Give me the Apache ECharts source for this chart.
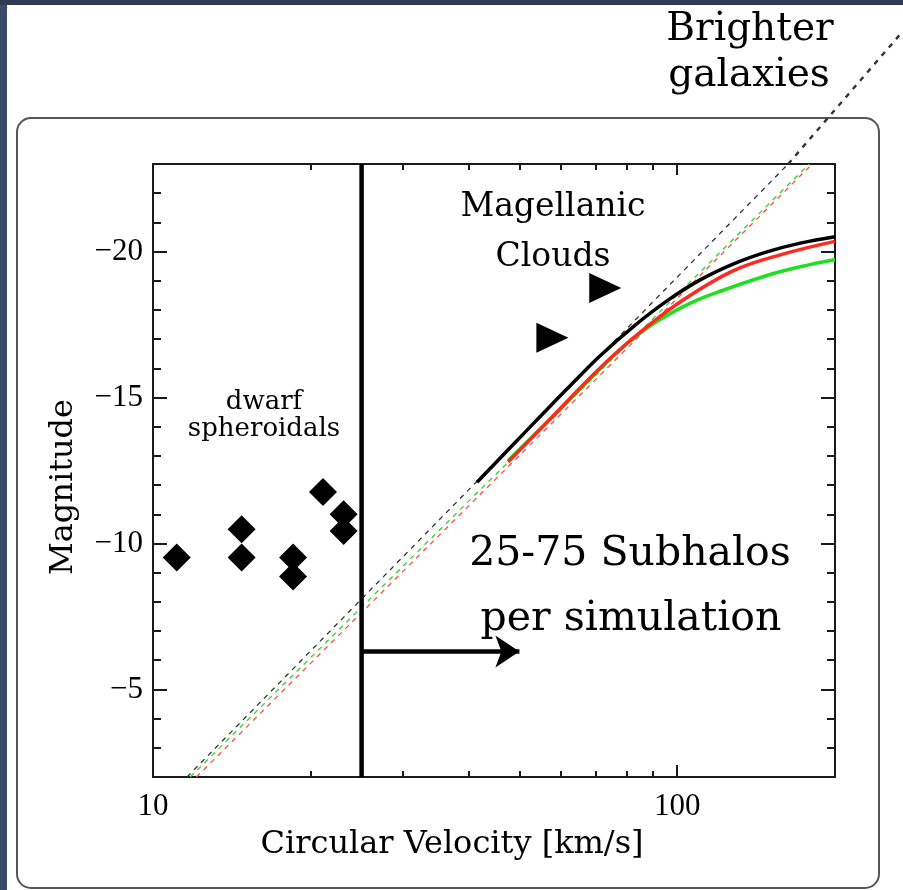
<!DOCTYPE html>
<html><head><meta charset="utf-8">
<script src="https://cdn.jsdelivr.net/npm/echarts@6/dist/echarts.min.js"></script>
<style>html,body{margin:0;padding:0;background:#fff}#c{width:903px;height:890px}</style>
</head><body><div id="c"></div>
<script>
// ---- data ----
const xTickMajor = [10, 100];
const xTickMinor = [20, 30, 40, 50, 60, 70, 80, 90, 200];
const yTickMajor = [-20, -15, -10, -5];
const yTickMinor = [-22, -21, -19, -18, -17, -16, -14, -13, -12, -11, -9, -8, -7, -6, -4, -3];

const dwarfs = [[11.1, -9.52], [14.76, -10.49], [14.76, -9.52], [18.5, -9.52], [18.5, -8.87], [21.1, -11.76], [23.1, -11.0], [23.1, -10.43]];
const clouds = [[57.8, -17.05], [72.9, -18.75]];

const blackCurve = [[41.5, -12.10], [48.0, -13.28], [55.6, -14.47], [61.6, -15.29], [71.3, -16.43], [82.5, -17.43], [95.6, -18.31], [110.6, -19.03], [128.1, -19.58], [148.3, -19.99], [171.7, -20.29], [200, -20.51]];
const redCurve = [[47.6, -12.79], [57.2, -14.26], [67.2, -15.56], [76.7, -16.55], [87.5, -17.42], [102.8, -18.35], [128.1, -19.35], [159.6, -19.92], [200, -20.35]];
const greenCurve = [[47.6, -12.84], [61.6, -14.83], [76.7, -16.54], [85.6, -17.25], [95.6, -17.81], [106.7, -18.26], [119.1, -18.60], [148.3, -19.18], [171.7, -19.48], [200, -19.73]];

const blackDash = [[11.61, -2], [162.8, -23]];
const greenDash = [[11.77, -2], [178.6, -23]];
const redDash = [[12.1, -2], [180.9, -23]];
const brighterPointer = [[162.8, -23], [269.8, -27.56]];

const cutLine = [[25, -2], [25, -23]];
const arrowLine = [[25, -6.3], [50, -6.3]];

// ---- chart ----
const chart = echarts.init(document.getElementById('c'), null, {renderer: 'canvas'});
const AX = '#1a1a1a';
const NUMFONT = 'Liberation Serif';

function xAxisDef(pos, ticks, len, withLine, withLabel) {
  return {
    type: 'log', logBase: 10, min: 10, max: 200, position: pos,
    axisLine: {show: withLine, onZero: false, lineStyle: {color: AX, width: 2}},
    axisTick: {show: true, inside: true, length: len, customValues: ticks, lineStyle: {color: AX, width: 2}},
    axisLabel: withLabel ? {show: true, customValues: ticks, margin: 14, fontFamily: NUMFONT, fontSize: 31, color: '#000'} : {show: false},
    splitLine: {show: false}, minorTick: {show: false}
  };
}
function yAxisDef(pos, ticks, len, withLine, withLabel) {
  return {
    type: 'value', inverse: true, min: -23, max: -2, position: pos,
    axisLine: {show: withLine, onZero: false, lineStyle: {color: AX, width: 2}},
    axisTick: {show: true, inside: true, length: len, customValues: ticks, lineStyle: {color: AX, width: 2}},
    axisLabel: withLabel ? {show: true, customValues: ticks, margin: 10, fontFamily: NUMFONT, fontSize: 31, color: '#000',
      formatter: v => (v < 0 ? '\u2212' : '') + Math.abs(v)} : {show: false},
    splitLine: {show: false}
  };
}

function txt(x, y, text, size, extra) {
  return Object.assign({type: 'text', z: 100, silent: true, x: x, y: y,
    style: {text: text, font: size + 'px "DejaVu Serif"', fill: '#000', textAlign: 'center', textVerticalAlign: 'middle'}}, extra || {});
}

const option = {
  animation: false,
  backgroundColor: '#ffffff',
  grid: {left: 153, right: 68, top: 164, bottom: 113, containLabel: false},
  xAxis: [
    xAxisDef('bottom', xTickMajor, 12, true, true),
    xAxisDef('bottom', xTickMinor, 6, false, false),
    xAxisDef('top', [100], 11, true, false),
    xAxisDef('top', xTickMinor, 6, false, false)
  ],
  yAxis: [
    yAxisDef('left', yTickMajor, 14, true, true),
    yAxisDef('left', yTickMinor, 8, false, false),
    yAxisDef('right', yTickMajor, 14, true, false),
    yAxisDef('right', yTickMinor, 8, false, false)
  ],
  series: [
    {type: 'line', data: blackDash, symbol: 'none', lineStyle: {color: '#333', width: 1.3, type: [5, 5]}, z: 3},
    {type: 'line', data: greenDash, symbol: 'none', lineStyle: {color: '#2bd62b', width: 1.3, type: [5, 5]}, z: 3},
    {type: 'line', data: redDash, symbol: 'none', lineStyle: {color: '#ff4d4d', width: 1.3, type: [5, 5]}, z: 3},
    {type: 'custom', data: brighterPointer, clip: false, z: 3, silent: true,
      renderItem: function (params, api) {
        if (params.dataIndex !== 0) return null;
        const pts = brighterPointer.map(p => api.coord(p));
        return {type: 'polyline', shape: {points: pts}, style: {stroke: '#333', lineWidth: 2.4, lineDash: [5, 6], fill: null}};
      }},
    {type: 'line', data: greenCurve, symbol: 'none', smooth: 0.4, lineStyle: {color: '#1ee01e', width: 3.5}, z: 4},
    {type: 'line', data: redCurve, symbol: 'none', smooth: 0.4, lineStyle: {color: '#ff2a1f', width: 3.5}, z: 5},
    {type: 'line', data: blackCurve, symbol: 'none', smooth: 0.4, lineStyle: {color: '#000', width: 3.5}, z: 6},
    {type: 'line', data: cutLine, symbol: 'none', lineStyle: {color: '#000', width: 4.5}, z: 7,
      markLine: {silent: true, symbol: ['none', 'arrow'], symbolSize: 24, label: {show: false},
        lineStyle: {color: '#000', width: 4.5, type: 'solid'},
        data: [[{coord: arrowLine[0]}, {coord: arrowLine[1]}]]}},
    {type: 'scatter', data: dwarfs, symbol: 'diamond', symbolSize: 28, itemStyle: {color: '#000', opacity: 1}, z: 8},
    {type: 'scatter', data: clouds, symbol: 'triangle', symbolSize: [30, 32], symbolRotate: -90, itemStyle: {color: '#000', opacity: 1}, z: 8}
  ],
  graphic: [
    {type: 'rect', z: -100, silent: true, shape: {x: 0, y: 0, width: 903, height: 890}, style: {fill: '#fff'}},
    {type: 'rect', z: -99, silent: true, shape: {x: 0, y: 0, width: 7, height: 890}, style: {fill: '#3b4a6b'}},
    {type: 'rect', z: -99, silent: true, shape: {x: 0, y: 0, width: 903, height: 5}, style: {fill: '#2f3b55'}},
    {type: 'rect', z: -98, silent: true, shape: {x: 17, y: 118, width: 862, height: 770, r: 14}, style: {fill: '#fff', stroke: '#555', lineWidth: 2}},
    txt(750, 30, 'Brighter', 39),
    txt(749, 76, 'galaxies', 39),
    txt(553, 207, 'Magellanic', 33),
    txt(553, 257, 'Clouds', 33),
    txt(264, 402, 'dwarf', 26),
    txt(264, 429, 'spheroidals', 26),
    txt(630, 554, '25-75 Subhalos', 41),
    txt(631, 619, 'per simulation', 41),
    txt(452, 845, 'Circular Velocity [km/s]', 32),
    txt(64, 487, 'Magnitude', 32, {rotation: Math.PI / 2})
  ]
};
chart.setOption(option);
</script>
</body></html>
